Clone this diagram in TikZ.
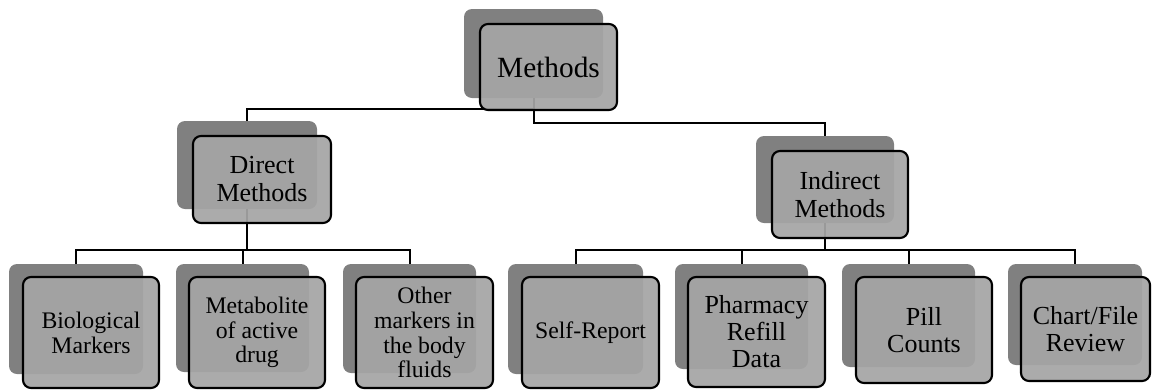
\documentclass[tikz,border=0pt]{standalone}
\usepackage{fontspec}
\setmainfont{Liberation Serif}
\definecolor{backgray}{RGB}{128,128,128}
\definecolor{frontgray}{RGB}{165,165,165}
\begin{document}
\begin{tikzpicture}[x=0.75pt,y=-0.75pt,
  back/.style={fill=backgray, rounded corners=6pt, inner sep=0pt},
  front/.style={fill=frontgray, fill opacity=0.93, text opacity=1, draw=black, line width=1.6pt, rounded corners=6pt, inner sep=0pt, align=center},
  sz/.style 2 args={minimum width=#1*0.75pt, minimum height=#2*0.75pt},
  conn/.style={draw=black, line width=1.5pt},
  ftop/.style={font=\fontsize{22pt}{24pt}\selectfont},
  fmid/.style={font=\fontsize{19.5pt}{21pt}\selectfont},
  fleaf/.style={font=\fontsize{17.8pt}{18.6pt}\selectfont},
  fleafb/.style={font=\fontsize{19.5pt}{20.3pt}\selectfont},
  ]
\path[use as bounding box] (0,0) rectangle (1152,390);
% back boxes
\node[back, sz={139}{89}] (mb) at (533.5,53.5) {};
\node[back, sz={140}{88}] (db) at (247,165) {};
\node[back, sz={138}{87}] (ib) at (825,179.5) {};
\node[back, sz={134}{110}] (bb) at (76,319) {};
\node[back, sz={133}{108}] (tb) at (242.5,318) {};
\node[back, sz={133}{109}] (ob) at (409.5,318.5) {};
\node[back, sz={135}{110}] (sb) at (575.5,319) {};
\node[back, sz={133}{105}] (pb) at (741.5,316.5) {};
\node[back, sz={133}{103}] (lb) at (908.5,315.5) {};
\node[back, sz={134}{101}] (cb) at (1075,314.5) {};
% connectors
\draw[conn] (mb.south) -- ++(0,11) -| (db.north);
\draw[conn] (mb.south) -- ++(0,25) -| (ib.north);
\draw[conn] (db.south) -- ++(0,41) -| (bb.north);
\draw[conn] (db.south) -- ++(0,41) -| (tb.north);
\draw[conn] (db.south) -- ++(0,41) -| (ob.north);
\draw[conn] (ib.south) -- ++(0,27) -| (sb.north);
\draw[conn] (ib.south) -- ++(0,27) -| (pb.north);
\draw[conn] (ib.south) -- ++(0,27) -| (lb.north);
\draw[conn] (ib.south) -- ++(0,27) -| (cb.north);
% front boxes
\node[front, ftop, sz={137}{86}] (m) at (548.5,67) {Methods};
\node[front, fmid, sz={138}{87}] (d) at (262,179.5) {Direct\\Methods};
\node[front, fmid, sz={136}{87}] (i) at (840,194.5) {Indirect\\Methods};
\node[front, fleaf, sz={136}{111}] (b) at (91,332.5) {Biological\\Markers};
\node[front, fleaf, sz={136}{111}] (t) at (257,332.5) {Metabolite\\of active\\drug};
\node[front, fleaf, sz={137}{111}] (o) at (424.5,332.5) {Other\\markers in\\the body\\fluids};
\node[front, fleaf, sz={137}{111}] (s) at (590.5,332.5) {Self-Report};
\node[front, fleafb, sz={137}{110}] (p) at (756.5,332) {Pharmacy\\Refill\\Data};
\node[front, fleafb, sz={136}{106}] (l) at (924,330) {Pill\\Counts};
\node[front, fleafb, sz={129}{104}] (c) at (1085.5,329) {Chart/File\\Review};
\end{tikzpicture}
\end{document}
